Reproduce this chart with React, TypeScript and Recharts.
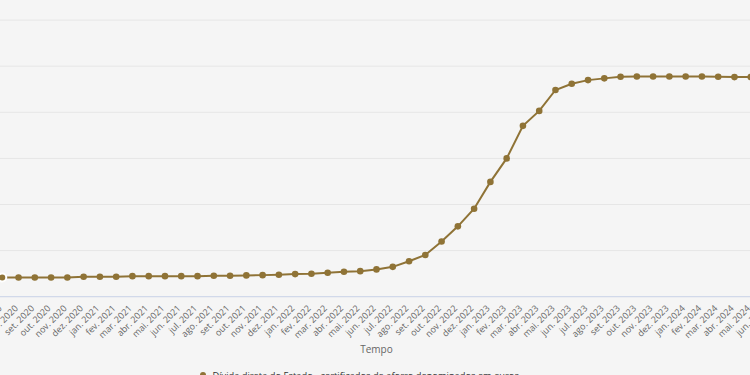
import { LineChart, Line, XAxis, YAxis, CartesianGrid, Legend } from "recharts"

// meses: jun. 2020 .. jun. 2024 (o primeiro e o último ficam fora da janela)
const months = [
  "jun. 2020", "jul. 2020", "ago. 2020", "set. 2020", "out. 2020", "nov. 2020", "dez. 2020",
  "jan. 2021", "fev. 2021", "mar. 2021", "abr. 2021", "mai. 2021", "jun. 2021",
  "jul. 2021", "ago. 2021", "set. 2021", "out. 2021", "nov. 2021", "dez. 2021",
  "jan. 2022", "fev. 2022", "mar. 2022", "abr. 2022", "mai. 2022", "jun. 2022",
  "jul. 2022", "ago. 2022", "set. 2022", "out. 2022", "nov. 2022", "dez. 2022",
  "jan. 2023", "fev. 2023", "mar. 2023", "abr. 2023", "mai. 2023", "jun. 2023",
  "jul. 2023", "ago. 2023", "set. 2023", "out. 2023", "nov. 2023", "dez. 2023",
  "jan. 2024", "fev. 2024", "mar. 2024", "abr. 2024", "mai. 2024", "jun. 2024",
]

// milhões de euros
const aforro = [
  12080, 12090, 12090, 12090, 12090, 12090, 12160,
  12160, 12160, 12230, 12230, 12230, 12230,
  12230, 12270, 12270, 12310, 12340, 12380,
  12450, 12490, 12590, 12700, 12770, 12960,
  13240, 13850, 14530, 15980, 17630, 19540,
  22450, 25000, 28530, 30150, 32420, 33100,
  33490, 33680, 33850, 33890, 33890, 33890,
  33890, 33890, 33850, 33820, 33820, 33800,
]

const yTicks = [10000, 15000, 20000, 25000, 30000, 35000, 40000, 45000]

const SERIES = "Dívida direta do Estado - certificados de aforro denominados em euros"
const COLOR = "#8f7336"

const data = months.map((m, i) => ({ mes: m, valor: aforro[i] }))

function MonthTick({ x, y, payload }: any) {
  return (
    <g transform={`translate(${x},${y})`}>
      <text x={-3} y={0} dy={3} textAnchor="end" transform="rotate(-45)" fontSize={9} fill="#666">
        {payload.value}
      </text>
    </g>
  )
}

function SeriesLegend() {
  return (
    <div style={{ display: "flex", alignItems: "center", fontSize: 9.3, color: "#333", whiteSpace: "nowrap" }}>
      <span style={{ width: 6, height: 6, borderRadius: 3, background: COLOR, marginRight: 6 }} />
      <span>{SERIES}</span>
    </div>
  )
}

export default function App() {
  return (
    <div style={{ position: "fixed", left: 0, top: 0, width: 750, height: 375, overflow: "hidden", background: "#f5f5f5", fontFamily: "'Open Sans', sans-serif" }}>
      <div style={{ position: "absolute", left: -13.6, top: -26 }}>
        <LineChart width={800} height={430} data={data} margin={{ top: 0, right: 19, bottom: 27.3, left: 0 }}>
          <CartesianGrid vertical={false} stroke="#e6e6e6" />
          <XAxis
            dataKey="mes"
            interval={0}
            tick={<MonthTick />}
            tickLine={false}
            axisLine={{ stroke: "#ccd6eb" }}
            height={80}
            label={{ value: "Tempo", position: "insideBottom", offset: 24, fill: "#666", fontSize: 10 }}
          />
          <YAxis hide domain={[10000, 45000]} ticks={yTicks} width={0} />
          <Legend
            layout="horizontal"
            verticalAlign="middle"
            align="center"
            content={<SeriesLegend />}
            wrapperStyle={{ top: 394.5, left: 214, width: 500 }}
          />
          <Line
            type="linear"
            dataKey="valor"
            name={SERIES}
            stroke={COLOR}
            strokeWidth={2}
            dot={{ r: 3.3, fill: COLOR, stroke: COLOR, strokeWidth: 0 }}
            isAnimationActive={false}
          />
        </LineChart>
      </div>
    </div>
  )
}
